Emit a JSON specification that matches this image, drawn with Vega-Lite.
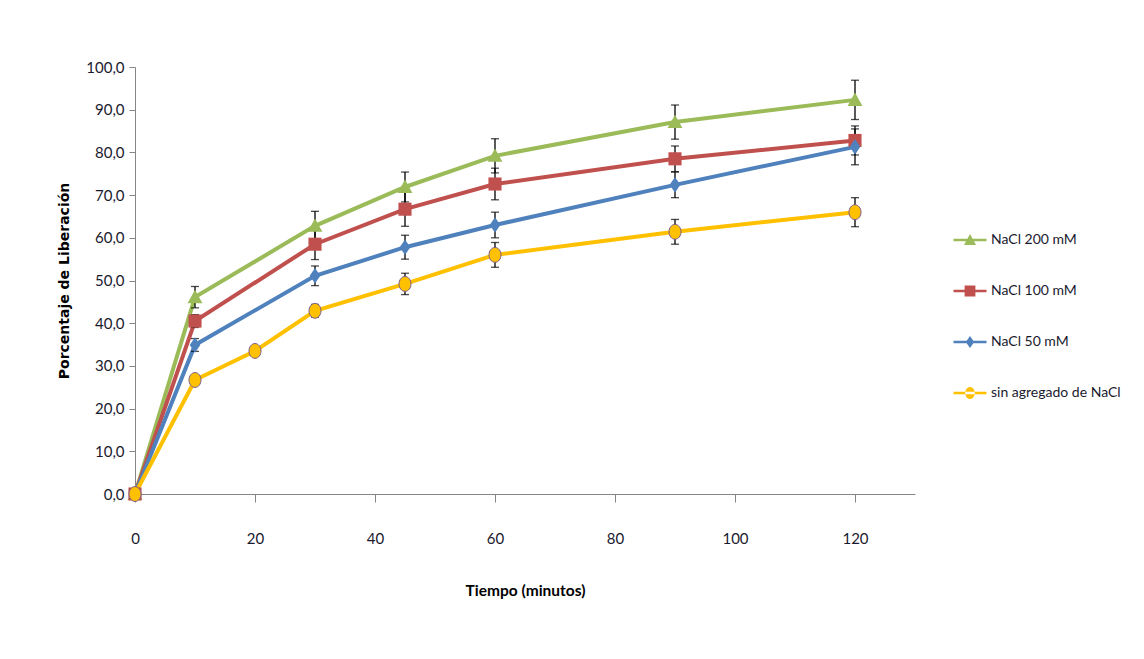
{
  "$schema": "https://vega.github.io/schema/vega-lite/v6.json",
  "autosize": "none",
  "width": 780,
  "height": 427,
  "padding": {"left": 135, "top": 67, "right": 229, "bottom": 165},
  "background": "white",
  "config": {
    "view": {"stroke": null},
    "font": "Lato",
    "axis": {"grid": false, "domainColor": "#868686", "tickColor": "#868686", "labelFont": "Lato", "labelFontSize": 15, "labelColor": "#1a1a2e", "titleColor": "#000", "titleFontWeight": "bold", "labelFlush": false}
  },
  "data": {"values": [
    {"serie": "NaCl 200 mM", "t": 0, "y": 0, "err": 0},
    {"serie": "NaCl 200 mM", "t": 10, "y": 46.1, "err": 2.5},
    {"serie": "NaCl 200 mM", "t": 30, "y": 62.8, "err": 3.4},
    {"serie": "NaCl 200 mM", "t": 45, "y": 71.9, "err": 3.5},
    {"serie": "NaCl 200 mM", "t": 60, "y": 79.2, "err": 4.0},
    {"serie": "NaCl 200 mM", "t": 90, "y": 87.1, "err": 4.0},
    {"serie": "NaCl 200 mM", "t": 120, "y": 92.3, "err": 4.6},
    {"serie": "NaCl 100 mM", "t": 0, "y": 0, "err": 0},
    {"serie": "NaCl 100 mM", "t": 10, "y": 40.5, "err": 1.5},
    {"serie": "NaCl 100 mM", "t": 30, "y": 58.5, "err": 3.6},
    {"serie": "NaCl 100 mM", "t": 45, "y": 66.7, "err": 4.0},
    {"serie": "NaCl 100 mM", "t": 60, "y": 72.6, "err": 3.7},
    {"serie": "NaCl 100 mM", "t": 90, "y": 78.5, "err": 3.0},
    {"serie": "NaCl 100 mM", "t": 120, "y": 82.8, "err": 3.4},
    {"serie": "NaCl 50 mM", "t": 0, "y": 0, "err": 0},
    {"serie": "NaCl 50 mM", "t": 10, "y": 34.9, "err": 1.5},
    {"serie": "NaCl 50 mM", "t": 30, "y": 51.1, "err": 2.3},
    {"serie": "NaCl 50 mM", "t": 45, "y": 57.8, "err": 2.8},
    {"serie": "NaCl 50 mM", "t": 60, "y": 63.0, "err": 3.0},
    {"serie": "NaCl 50 mM", "t": 90, "y": 72.4, "err": 3.0},
    {"serie": "NaCl 50 mM", "t": 120, "y": 81.3, "err": 4.2},
    {"serie": "sin agregado de NaCl", "t": 0, "y": 0, "err": 0},
    {"serie": "sin agregado de NaCl", "t": 10, "y": 26.7, "err": 1.0},
    {"serie": "sin agregado de NaCl", "t": 20, "y": 33.5, "err": 1.0},
    {"serie": "sin agregado de NaCl", "t": 30, "y": 42.9, "err": 1.5},
    {"serie": "sin agregado de NaCl", "t": 45, "y": 49.2, "err": 2.5},
    {"serie": "sin agregado de NaCl", "t": 60, "y": 56.0, "err": 2.9},
    {"serie": "sin agregado de NaCl", "t": 90, "y": 61.4, "err": 2.9},
    {"serie": "sin agregado de NaCl", "t": 120, "y": 66.0, "err": 3.4}
  ]},
  "encoding": {
    "x": {"field": "t", "type": "quantitative", "scale": {"domain": [0, 130], "nice": false},
      "axis": {"values": [0, 20, 40, 60, 80, 100, 120], "tickSize": 8, "labelPadding": 29, "title": "Tiempo (minutos)", "titleFont": "Lato", "titleFontSize": 15.5, "titlePadding": 37}},
    "y": {"field": "y", "type": "quantitative", "scale": {"domain": [0, 100], "nice": false},
      "axis": {"values": [0, 10, 20, 30, 40, 50, 60, 70, 80, 90, 100], "tickSize": 6, "labelPadding": 5, "labelExpr": "replace(format(datum.value, '.1f'), '.', ',')", "title": "Porcentaje de Liberación", "titleFont": "DejaVu Sans", "titleFontSize": 14, "titlePadding": 14}}
  },
  "layer": [
    {
      "mark": {"type": "line", "strokeWidth": 4},
      "encoding": {"color": {"field": "serie", "type": "nominal",
        "scale": {"domain": ["NaCl 200 mM", "NaCl 100 mM", "NaCl 50 mM", "sin agregado de NaCl"], "range": ["#9BBB59", "#C0504D", "#4F81BD", "#FFC000"]}}}
    },
    {
      "transform": [{"filter": "datum.err > 0"}],
      "mark": {"type": "errorbar", "color": "black", "thickness": 1.3, "ticks": {"size": 8, "color": "black", "thickness": 1.3}},
      "encoding": {"yError": {"field": "err"}}
    },
    {
      "transform": [{"filter": "datum.serie == 'NaCl 200 mM'"}],
      "mark": {"type": "point", "filled": true, "opacity": 1, "size": 200, "shape": "M0,-1.05L1.05,0.85H-1.05Z", "color": "#9BBB59"}
    },
    {
      "transform": [{"filter": "datum.serie == 'NaCl 100 mM'"}],
      "mark": {"type": "point", "filled": true, "opacity": 1, "size": 190, "shape": "M-0.95,-0.95H0.95V0.95H-0.95Z", "color": "#C0504D"}
    },
    {
      "transform": [{"filter": "datum.serie == 'NaCl 50 mM'"}],
      "mark": {"type": "point", "filled": true, "opacity": 1, "size": 200, "shape": "M0,-1.1L0.75,0L0,1.1L-0.75,0Z", "color": "#4F81BD"}
    },
    {
      "transform": [{"filter": "datum.serie == 'sin agregado de NaCl'"}],
      "mark": {"type": "point", "filled": true, "opacity": 1, "size": 200, "shape": "M-0.85,0A0.85,1.05,0,1,0,0.85,0A0.85,1.05,0,1,0,-0.85,0Z", "color": "#FFC000", "stroke": "#7A5C8C", "strokeWidth": 1}
    },
    {
      "transform": [{"filter": "datum.t < 0"}],
      "mark": {"type": "point", "filled": true, "opacity": 1},
      "encoding": {
        "color": {"field": "serie", "type": "nominal"},
        "shape": {"field": "serie", "type": "nominal",
          "scale": {"domain": ["NaCl 200 mM", "NaCl 100 mM", "NaCl 50 mM", "sin agregado de NaCl"],
            "range": [
              "M-2.75,-0.22H2.75V0.22H-2.75Z M0,-1L1,0.85H-1Z",
              "M-2.75,-0.22H2.75V0.22H-2.75Z M-0.9,-0.9H0.9V0.9H-0.9Z",
              "M-2.75,-0.22H2.75V0.22H-2.75Z M0,-1L0.7,0L0,1L-0.7,0Z",
              "M-2.75,-0.22H2.75V0.22H-2.75Z M-0.8,0A0.8,1,0,1,0,0.8,0A0.8,1,0,1,0,-0.8,0Z"
            ]},
          "legend": {"title": null, "orient": "none", "legendX": 828, "legendY": 166, "symbolSize": 144, "symbolStrokeWidth": 0, "labelFont": "Lato", "labelFontSize": 14, "labelColor": "#1a1a2e", "labelOffset": 14, "rowPadding": 37, "symbolOpacity": 1}
        }
      }
    }
  ]
}
